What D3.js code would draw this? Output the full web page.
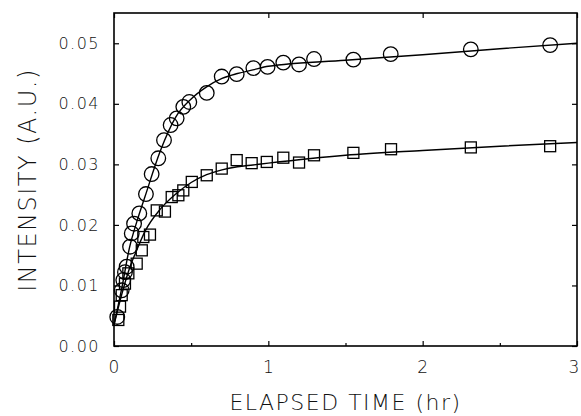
<!DOCTYPE html>
<html>
<head>
<meta charset="utf-8">
<script src="https://cdn.jsdelivr.net/npm/d3@7/dist/d3.min.js"></script>
<style>
  body { margin:0; background:#fff; }
  text { font-family:"DejaVu Sans", sans-serif; font-weight:200; fill:#111; }
</style>
</head>
<body>
<div id="chart"></div>
<script>
/* elapsed time (hr) of each reading, circles and squares share most times */
const circTime = [0.021,0.050,0.060,0.071,0.082,0.104,0.115,0.130,0.164,0.207,0.244,0.287,0.324,0.367,0.406,0.449,0.488,0.601,0.698,0.795,0.903,0.995,1.097,1.199,1.296,1.551,1.793,2.312,2.826];
const circVal  = [0.0048,0.0092,0.0109,0.0122,0.0131,0.0164,0.0186,0.0202,0.0219,0.0251,0.0284,0.0310,0.0340,0.0365,0.0376,0.0395,0.0403,0.0418,0.0445,0.0449,0.0459,0.0461,0.0468,0.0465,0.0474,0.0473,0.0482,0.0490,0.0497];
const sqTime = [0.028,0.039,0.050,0.071,0.093,0.147,0.180,0.190,0.233,0.277,0.330,0.374,0.417,0.449,0.504,0.601,0.698,0.795,0.892,0.990,1.097,1.199,1.296,1.551,1.795,2.312,2.826];
const sqVal  = [0.0043,0.0065,0.0084,0.0103,0.0120,0.0136,0.0158,0.0180,0.0184,0.0224,0.0222,0.0246,0.0249,0.0257,0.0271,0.0282,0.0293,0.0307,0.0302,0.0304,0.0311,0.0303,0.0315,0.0319,0.0325,0.0328,0.0330];
/* fitted curves */
const fitTime = [0,0.05,0.1,0.15,0.2,0.3,0.4,0.5,0.6,0.7,0.8,0.9,1.0,1.5,2.0,2.5,3.0];
const fitCirc = [0.0035,0.0095,0.0162,0.0207,0.0246,0.0322,0.0378,0.0408,0.0428,0.0442,0.0450,0.0456,0.0462,0.0472,0.0481,0.0491,0.0500];
const fitSq   = [0.0035,0.0085,0.0128,0.0160,0.0189,0.0226,0.0251,0.0270,0.0283,0.0291,0.0296,0.0299,0.0302,0.0315,0.0323,0.0330,0.0336];
const xTicks = [0,1,2,3];
const xMinor = [0.5,1.5,2.5];
const yTicks = [0,0.01,0.02,0.03,0.04,0.05];

var W = 581, H = 416;
var margin = {top:13,right:4,bottom:70,left:114},
w = W - margin.left - margin.right,
h = H - margin.top - margin.bottom;

var svg = d3.select("#chart").append("svg")
.attr("width",W).attr("height",H);
var g = svg.append("g").attr("transform",`translate(${margin.left},${margin.top})`);

var x = d3.scaleLinear().domain([0,3]).range([0,w]);
var y = d3.scaleLinear().domain([0,0.055]).range([h,0]);

// frame
g.append("rect").attr("width",w).attr("height",h)
.attr("fill","none").attr("stroke","#000").attr("stroke-width",1.6);

// axes, ticks inward
var fmtY = d3.format(".2f");
var xAx = g.append("g").attr("transform",`translate(0,${h})`)
.call(d3.axisBottom(x).tickValues(xTicks).tickFormat(d3.format("d")).tickSize(-5).tickPadding(15));
var xMin = g.append("g").attr("transform",`translate(0,${h})`)
.call(d3.axisBottom(x).tickValues(xMinor).tickFormat("").tickSize(-3));
var xTop = g.append("g")
.call(d3.axisTop(x).tickValues(xTicks).tickFormat("").tickSize(-5));
var yAx = g.append("g")
.call(d3.axisLeft(y).tickValues(yTicks).tickFormat(fmtY).tickSize(-5).tickPadding(14));
var yRt = g.append("g").attr("transform",`translate(${w},0)`)
.call(d3.axisRight(y).tickValues(yTicks).tickFormat("").tickSize(-5));
[xAx,xMin,xTop,yAx,yRt].forEach(a=>{
  a.select(".domain").remove();
  a.selectAll("line").attr("stroke","#000").attr("stroke-width",1.2);
  a.selectAll("text").attr("fill","#111");
});
xAx.selectAll("text").attr("font-size","17px").style("letter-spacing","1px");
// last label sits on the edge, as in the original
xAx.selectAll("text").filter(d=>d===3).attr("dx","-3");
yAx.selectAll("text").attr("font-size","16px").style("letter-spacing","1.5px");

// fitted lines
var line = d3.line().curve(d3.curveMonotoneX);
g.append("path")
.attr("d",line(fitTime.map((t,i)=>[x(t),y(fitCirc[i])])))
.attr("fill","none").attr("stroke","#000").attr("stroke-width",1.4);
g.append("path")
.attr("d",line(fitTime.map((t,i)=>[x(t),y(fitSq[i])])))
.attr("fill","none").attr("stroke","#000").attr("stroke-width",1.4);

// markers
g.selectAll("circle.pt").data(circTime).enter()
.append("circle").attr("class","pt")
.attr("cx",d=>x(d)).attr("cy",(d,i)=>y(circVal[i])).attr("r",7.3)
.attr("fill","none").attr("stroke","#000").attr("stroke-width",1.3);
var sz = 11;
g.selectAll("rect.pt").data(sqTime).enter()
.append("rect").attr("class","pt")
.attr("x",d=>x(d)-sz/2).attr("y",(d,i)=>y(sqVal[i])-sz/2)
.attr("width",sz).attr("height",sz)
.attr("fill","none").attr("stroke","#000").attr("stroke-width",1.3);

// titles
svg.append("text").text("ELAPSED TIME (hr)")
.attr("x",margin.left+w/2).attr("y",410)
.attr("text-anchor","middle").attr("font-size","22px").style("letter-spacing","1.5px");
svg.append("text").text("INTENSITY (A.U.)")
.attr("transform","translate(36,180)rotate(-90)")
.attr("text-anchor","middle").attr("font-size","24px").style("letter-spacing","1.5px");
</script>
</body>
</html>
